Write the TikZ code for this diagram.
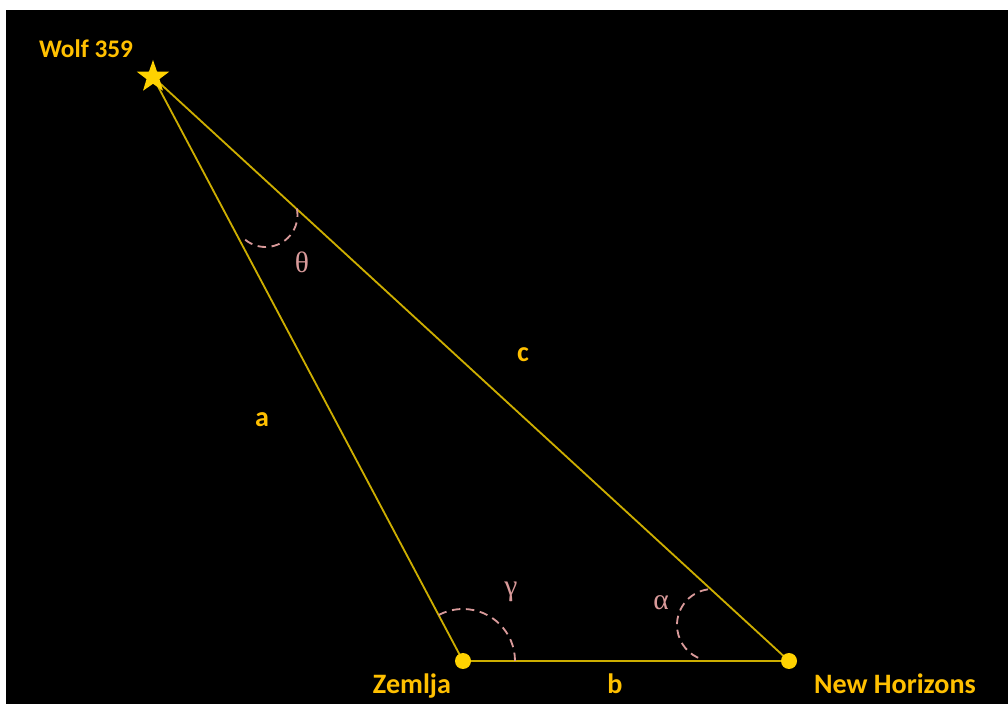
\documentclass[tikz,border=0pt]{standalone}
\usepackage{fontspec}
\setmainfont{Carlito}
\newfontfamily\greekfont{Liberation Serif}
\usetikzlibrary{shapes.geometric}
\definecolor{labelgold}{HTML}{FFC000}
\definecolor{sidegold}{HTML}{CDAE00}
\definecolor{dotgold}{HTML}{FFD200}
\definecolor{anglepink}{HTML}{D99A9A}
\begin{document}
\begin{tikzpicture}[x=0.25mm,y=0.25mm,
  lbl/.style={text=labelgold,font=\fontsize{20}{24}\selectfont\bfseries,inner sep=0pt,anchor=base},
  grk/.style={text=anglepink,font=\fontsize{21}{24}\selectfont\greekfont,inner sep=0pt},
  side/.style={sidegold,line width=1.3pt},
  angarc/.style={anglepink,line width=1.3pt,dash pattern=on 6pt off 4pt},
  craft/.style={circle,fill=dotgold,inner sep=0pt,minimum size=4mm}]
  \useasboundingbox (0,0) rectangle (1008,704);
  \fill[black] (6,0) rectangle (1008,694);
  \coordinate (W) at (153,627);
  \coordinate (Z) at (463,43);
  \coordinate (N) at (789,43);
  % sides of the triangle
  \draw[side] (W) -- (Z) -- (N) -- cycle;
  % angles
  \draw[angarc] (265.5,489) ++(230.6:32) arc[start angle=230.6,end angle=372.5,radius=32];
  \draw[angarc] (Z) ++(0:52) arc[start angle=0,end angle=118,radius=52];
  \draw[angarc] (713,79) ++(98:36) arc[start angle=98,end angle=252,radius=36];
  \node[grk] (theta) at (302,442) {θ};
  \node[grk] (gamma) at (511,112) {γ};
  \node[grk] (alpha) at (661,101) {α};
  % bodies
  \node[star,star points=5,star point ratio=2.5,fill=dotgold,inner sep=0pt,minimum size=8.5mm] (wolf) at (W) {};
  \node[craft] (earth) at (Z) {};
  \node[craft] (probe) at (N) {};
  % labels
  \node[lbl,font=\fontsize{18}{22}\selectfont\bfseries] (wolfname) at (86,646) {Wolf 359};
  \node[lbl] (earthname) at (412,11) {Zemlja};
  \node[lbl] (probename) at (895,11) {New Horizons};
  \node[lbl] (sidea) at (262,277) {a};
  \node[lbl] (sideb) at (615,11) {b};
  \node[lbl] (sidec) at (523,342) {c};
\end{tikzpicture}
\end{document}
